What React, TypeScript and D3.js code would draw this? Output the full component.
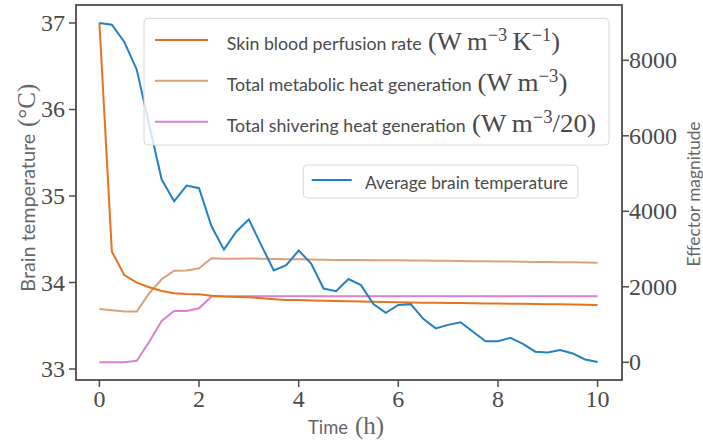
import React from "react";
import * as d3 from "d3";

// ---------------- data ----------------
const times = [
  0, 0.25, 0.5, 0.75, 1, 1.25, 1.5, 1.75, 2, 2.25, 2.5, 2.75, 3, 3.25, 3.5, 3.75,
  4, 4.25, 4.5, 4.75, 5, 5.25, 5.5, 5.75, 6, 6.25, 6.5, 6.75, 7, 7.25, 7.5, 7.75,
  8, 8.25, 8.5, 8.75, 9, 9.25, 9.5, 9.75, 10,
];

const brainTemp = [
  37.0, 36.98, 36.78, 36.46, 35.82, 35.19, 34.94, 35.12, 35.09, 34.65, 34.38,
  34.59, 34.73, 34.43, 34.14, 34.2, 34.37, 34.22, 33.93, 33.9, 34.04, 33.97,
  33.75, 33.65, 33.74, 33.75, 33.58, 33.47, 33.51, 33.54, 33.43, 33.32, 33.32,
  33.36, 33.29, 33.2, 33.19, 33.22, 33.18, 33.11, 33.08,
];

const perfusion = [
  8990, 2930, 2313, 2109, 1987, 1889, 1828, 1810, 1800, 1765, 1742, 1730, 1722,
  1698, 1672, 1652, 1648, 1640, 1632, 1625, 1618, 1608, 1602, 1596, 1590, 1585,
  1580, 1576, 1572, 1568, 1564, 1560, 1556, 1552, 1548, 1544, 1540, 1535, 1530,
  1525, 1520,
];

const metabolic = [
  1412, 1380, 1345, 1345, 1830, 2200, 2427, 2430, 2490, 2755, 2740, 2745, 2750,
  2745, 2735, 2728, 2730, 2722, 2715, 2712, 2712, 2708, 2705, 2702, 2700, 2698,
  2695, 2690, 2688, 2684, 2680, 2676, 2672, 2668, 2664, 2660, 2656, 2652, 2648,
  2644, 2640,
];

const shivering = [
  0, 0, 0, 40, 546, 1094, 1360, 1360, 1430, 1740, 1750, 1750, 1750, 1750, 1750,
  1750, 1750, 1750, 1750, 1750, 1750, 1750, 1750, 1750, 1750, 1750, 1750, 1750,
  1750, 1750, 1750, 1750, 1750, 1750, 1750, 1750, 1750, 1750, 1750, 1750, 1750,
];

const xTicks = [0, 2, 4, 6, 8, 10];
const leftTicks = [33, 34, 35, 36, 37];
const rightTicks = [0, 2000, 4000, 6000, 8000];

// ---------------- layout ----------------
const W = 703;
const H = 444;
const L = 76;
const R = 622;
const T = 5;
const B = 380;

const SERIF = "'Liberation Serif', 'DejaVu Serif', serif";
const SANS = "Lato, 'Open Sans', 'DejaVu Sans', sans-serif";
const AXIS = "#4d4d4d";
const TXT = "#4a4a4a";
const LABEL = "#666";

const C_BLUE = "#2381c3";
const C_PERF = "#e6731f";
const C_MET = "#dea07a";
const C_SHIV = "#dc80d0";

type Part = [string, boolean];

function MathText(props: { x: number; y: number; parts: Part[]; len: number; size?: number }) {
  const size = props.size ?? 26;
  const supSize = 18;
  const raise = 9;
  let lifted = false;
  return (
    <text
      x={props.x}
      y={props.y}
      fontFamily={SERIF}
      fontSize={size}
      fill={TXT}
      textLength={props.len}
      lengthAdjust="spacingAndGlyphs"
    >
      {props.parts.map(([s, sup], i) => {
        let dy = 0;
        if (sup && !lifted) {
          dy = -raise;
          lifted = true;
        } else if (!sup && lifted) {
          dy = raise;
          lifted = false;
        }
        return (
          <tspan key={i} dy={dy} fontSize={sup ? supSize : size}>
            {s}
          </tspan>
        );
      })}
    </text>
  );
}

export default function App() {
  const x = d3.scaleLinear().domain([-0.47, 10.49]).range([L, R]);
  const yL = d3.scaleLinear().domain([32.873, 37.208]).range([B, T]);
  const yR = d3.scaleLinear().domain([-469, 9465]).range([B, T]);

  const lineL = d3
    .line<number>()
    .x((_, i) => x(times[i]))
    .y((d) => yL(d));
  const lineR = d3
    .line<number>()
    .x((_, i) => x(times[i]))
    .y((d) => yR(d));

  const legendRows: {
    color: string;
    label: string;
    len: number;
    mx: number;
    mlen: number;
    math: Part[];
  }[] = [
    {
      color: C_PERF,
      label: "Skin blood perfusion rate",
      len: 195,
      mx: 428,
      mlen: 132,
      math: [["(W\u2009m", false], ["\u22123", true], ["\u2009K", false], ["\u22121", true], [")", false]],
    },
    {
      color: C_MET,
      label: "Total metabolic heat generation",
      len: 245,
      mx: 477.5,
      mlen: 90,
      math: [["(W\u2009m", false], ["\u22123", true], [")", false]],
    },
    {
      color: C_SHIV,
      label: "Total shivering heat generation",
      len: 239,
      mx: 472,
      mlen: 124,
      math: [["(W\u2009m", false], ["\u22123", true], ["/20)", false]],
    },
  ];
  const rowY = [40, 80.7, 121.7];

  return (
    <svg
      width={W}
      height={H}
      style={{ position: "absolute", left: 0, top: 0, background: "#fff" }}
    >
      <rect x={0} y={0} width={W} height={H} fill="#fff" />

      {/* data lines */}
      <path d={lineR(metabolic) || ""} fill="none" stroke={C_MET} strokeWidth={2} />
      <path d={lineR(shivering) || ""} fill="none" stroke={C_SHIV} strokeWidth={2} />
      <path d={lineR(perfusion) || ""} fill="none" stroke={C_PERF} strokeWidth={2} />
      <path d={lineL(brainTemp) || ""} fill="none" stroke={C_BLUE} strokeWidth={2} />

      {/* spines */}
      <rect x={L} y={T} width={R - L} height={B - T} fill="none" stroke={AXIS} strokeWidth={1.8} />

      {/* x ticks */}
      {xTicks.map((t) => (
        <g key={"x" + t}>
          <line x1={x(t)} x2={x(t)} y1={B} y2={B + 7} stroke={AXIS} strokeWidth={1.5} />
          <text x={x(t)} y={407} textAnchor="middle" fontFamily={SERIF} fontSize={24} fill={TXT}>
            {t}
          </text>
        </g>
      ))}

      {/* left ticks */}
      {leftTicks.map((t) => (
        <g key={"l" + t}>
          <line x1={L - 7} x2={L} y1={yL(t)} y2={yL(t)} stroke={AXIS} strokeWidth={1.5} />
          <text x={65} y={yL(t) + 8} textAnchor="end" fontFamily={SERIF} fontSize={24} fill={TXT}>
            {t}
          </text>
        </g>
      ))}

      {/* right ticks */}
      {rightTicks.map((t) => (
        <g key={"r" + t}>
          <line x1={R} x2={R + 7} y1={yR(t)} y2={yR(t)} stroke={AXIS} strokeWidth={1.5} />
          <text x={629} y={yR(t) + 8} textAnchor="start" fontFamily={SERIF} fontSize={24} fill={TXT}>
            {t}
          </text>
        </g>
      ))}

      {/* axis labels */}
      <text x={308} y={434} fontFamily={SANS} fontSize={19} fill={LABEL} textLength={40} lengthAdjust="spacingAndGlyphs">
        Time
      </text>
      <text x={355} y={434} fontFamily={SERIF} fontSize={25} fill={LABEL}>
        (h)
      </text>

      <text
        transform="translate(34.5,291.7) rotate(-90)"
        fontFamily={SANS}
        fontSize={19}
        fill={LABEL}
        textLength={158}
        lengthAdjust="spacingAndGlyphs"
      >
        Brain temperature
      </text>
      <text transform="translate(35,127) rotate(-90)" fontFamily={SERIF} fontSize={25} fill={LABEL}>
        (°C)
      </text>

      <text
        transform="translate(700,194) rotate(-90)"
        textAnchor="middle"
        fontFamily={SANS}
        fontSize={18}
        fill={LABEL}
        textLength={145}
        lengthAdjust="spacingAndGlyphs"
      >
        Effector magnitude
      </text>

      {/* legend 1 */}
      <rect x={144} y={18.3} width={465} height={126.7} rx={4} fill="#fff" fillOpacity={0.8} stroke="#d8d8d8" strokeWidth={1} />
      {legendRows.map((r, i) => (
        <g key={"lg" + i}>
          <line x1={155} x2={208} y1={rowY[i]} y2={rowY[i]} stroke={r.color} strokeWidth={2} />
          <text
            x={226.7}
            y={rowY[i] + 10}
            fontFamily={SANS}
            fontSize={18}
            fill={TXT}
            textLength={r.len}
            lengthAdjust="spacingAndGlyphs"
          >
            {r.label}
          </text>
          <MathText x={r.mx} y={rowY[i] + 10} parts={r.math} len={r.mlen} />
        </g>
      ))}

      {/* legend 2 */}
      <rect x={303.3} y={165} width={274.7} height={33} rx={4} fill="#fff" fillOpacity={0.8} stroke="#d8d8d8" strokeWidth={1} />
      <line x1={311.7} x2={351.7} y1={180} y2={180} stroke={C_BLUE} strokeWidth={2} />
      <text x={365} y={189} fontFamily={SANS} fontSize={18} fill={TXT} textLength={203} lengthAdjust="spacingAndGlyphs">
        Average brain temperature
      </text>
    </svg>
  );
}
